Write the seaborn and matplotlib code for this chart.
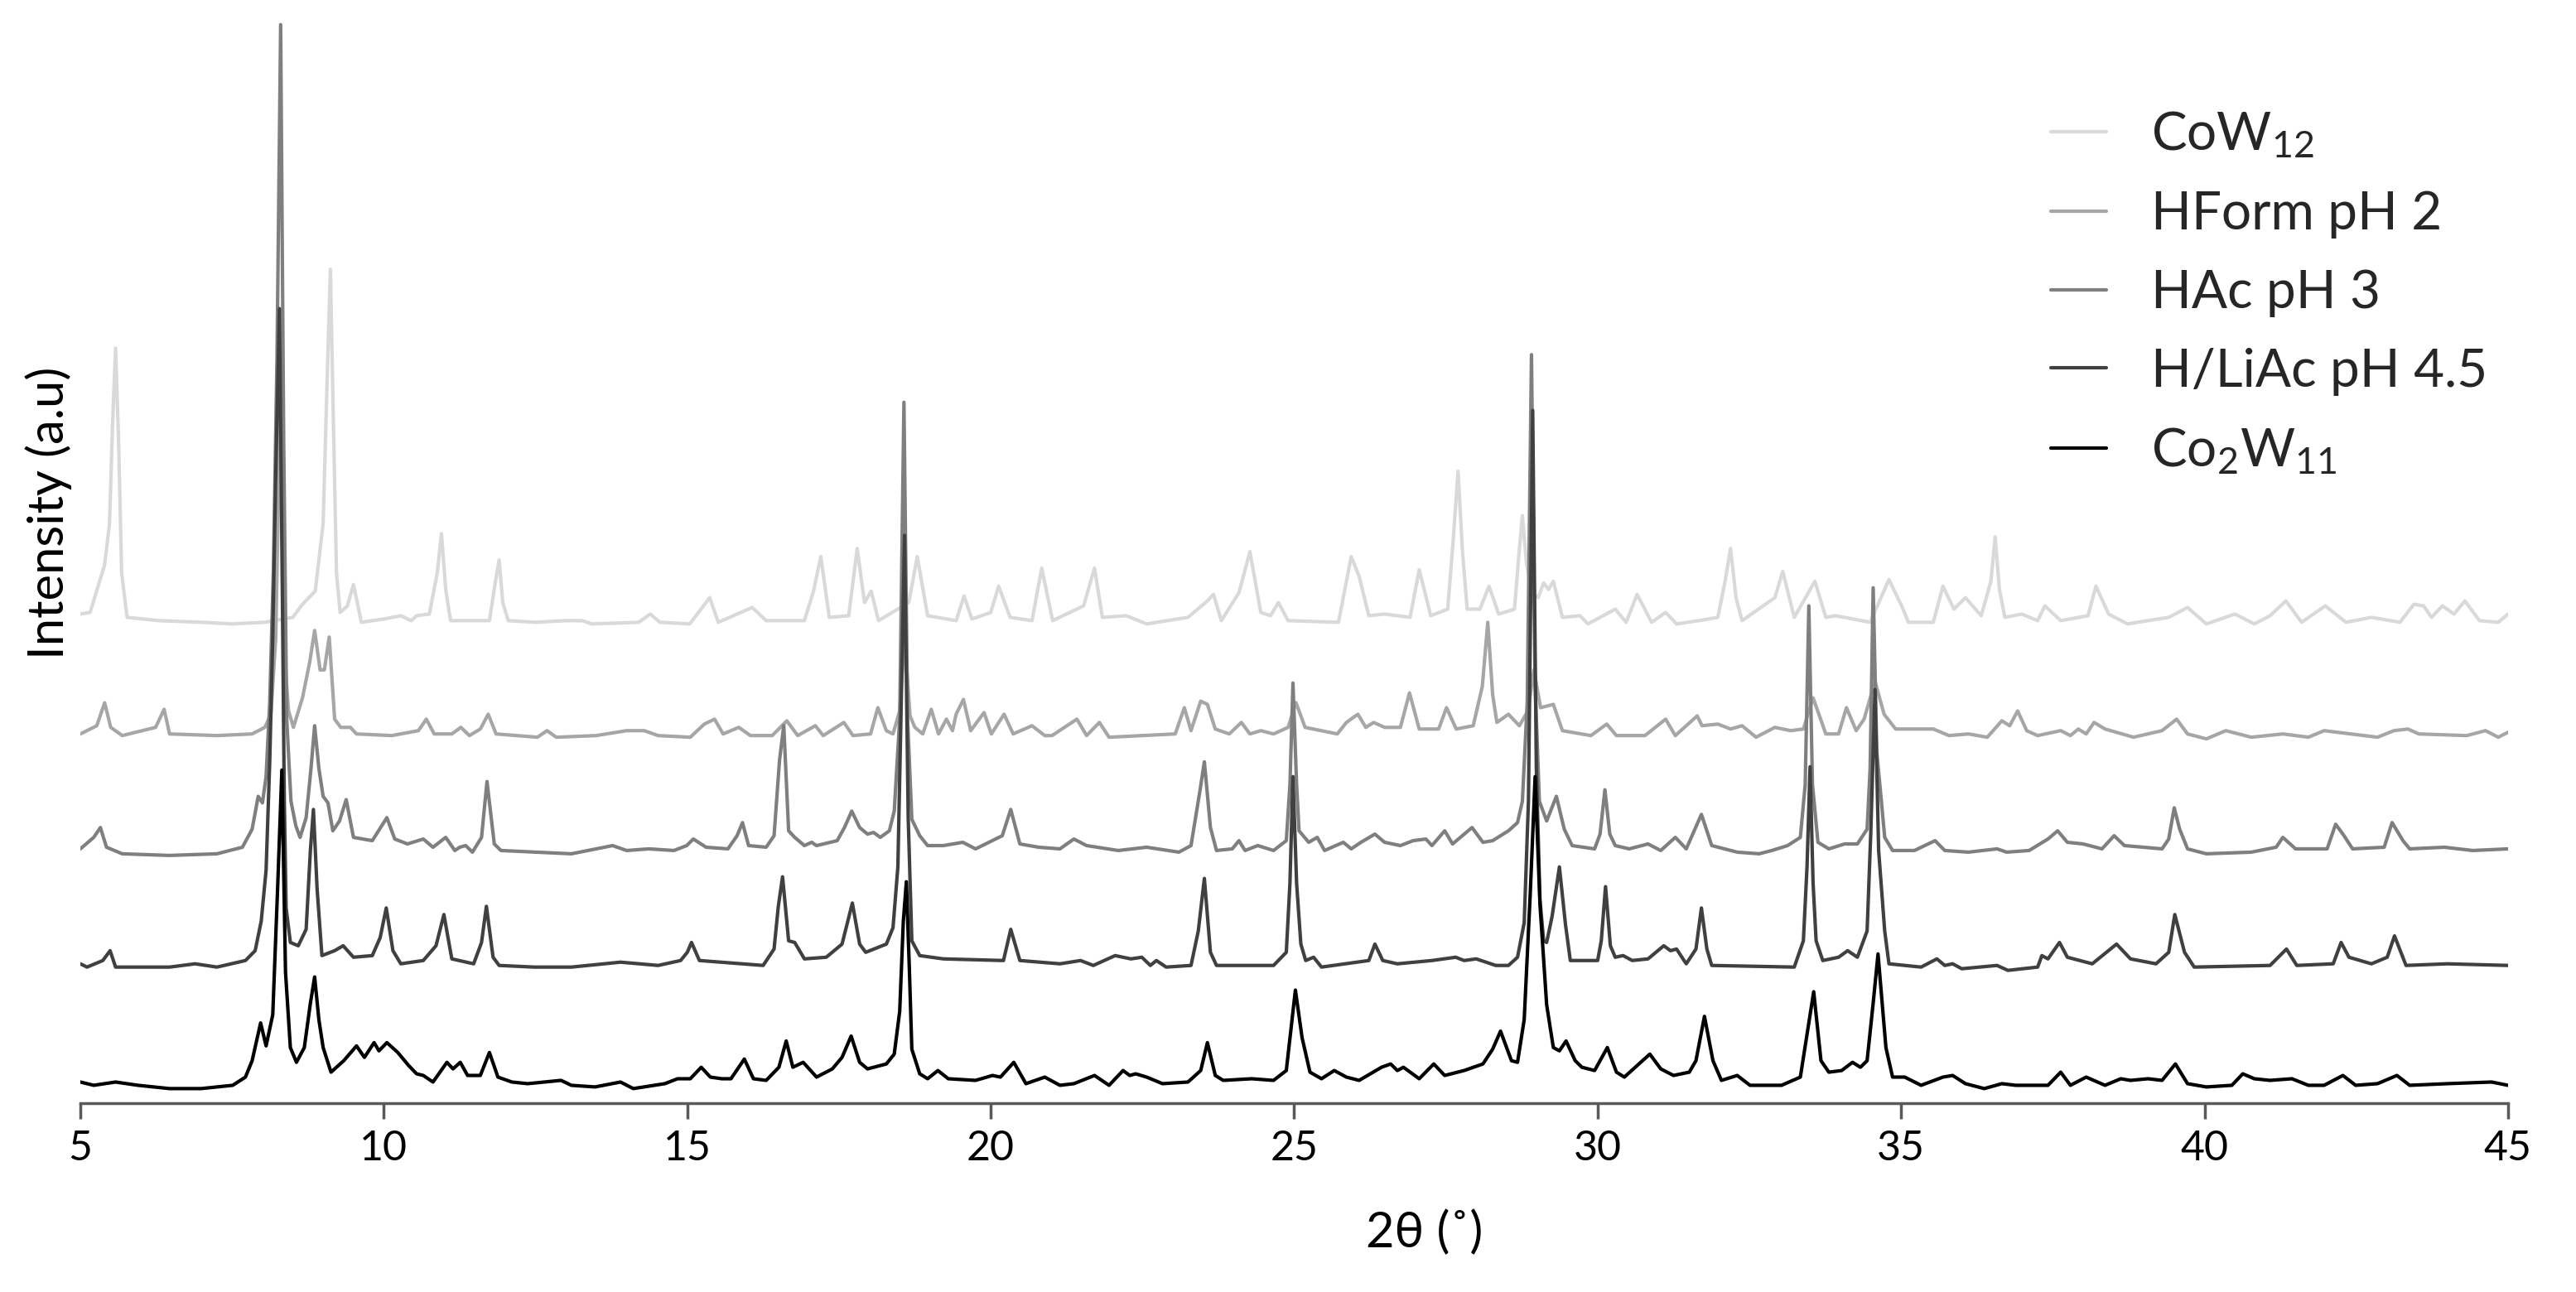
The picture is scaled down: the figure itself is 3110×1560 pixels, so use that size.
import matplotlib
matplotlib.use("Agg")
import matplotlib.pyplot as plt
import pandas as pd
import seaborn as sns

# ---------------- data (2theta in degrees, intensity in arbitrary units) ----------------
SERIES = ["CoW$_{12}$", "HForm pH 2", "HAc pH 3", "H/LiAc pH 4.5", "Co$_{2}$W$_{11}$"]
COLORS = ["#d9d9d9", "#a6a6a6", "#7f7f7f", "#404040", "#000000"]
OFFSETS = [293, 224, 154, 84, 11]

COW12 = [
    (5.00, 5), (5.16, 6), (5.40, 35), (5.48, 60), (5.53, 120), (5.58, 167), (5.63, 110), (5.68, 30),
    (5.77, 3), (6.30, 1), (7.00, 0), (7.50, -1), (8.04, 0), (8.50, 3), (8.66, 11), (8.87, 19),
    (9.00, 60), (9.06, 140), (9.12, 215), (9.17, 120), (9.22, 30), (9.28, 6), (9.40, 10), (9.50, 23),
    (9.63, 0), (10.00, 2), (10.28, 4), (10.45, 1), (10.54, 4), (10.75, 5), (10.88, 30), (10.95, 54),
    (11.02, 20), (11.10, 1), (11.74, 1), (11.84, 25), (11.90, 38), (11.96, 12), (12.05, 1), (12.50, 0),
    (13.00, 1), (13.27, 1), (13.43, -1), (14.20, 0), (14.39, 5), (14.55, 0), (15.04, -1), (15.37, 15),
    (15.51, 0), (16.07, 9), (16.30, 1), (16.93, 1), (17.08, 19), (17.20, 40), (17.34, 3), (17.66, 4),
    (17.80, 45), (17.92, 12), (18.03, 19), (18.15, 1), (18.65, 12), (18.79, 40), (18.96, 4), (19.43, 1),
    (19.56, 16), (19.69, 2), (20.00, 6), (20.13, 22), (20.32, 3), (20.68, 1), (20.84, 33), (21.02, 1),
    (21.53, 10), (21.71, 33), (21.84, 3), (22.23, 4), (22.57, -1), (23.25, 3), (23.57, 13), (23.67, 17),
    (23.80, 1), (24.09, 18), (24.27, 43), (24.45, 6), (24.61, 4), (24.74, 12), (24.90, 1), (25.73, 0),
    (25.94, 40), (26.07, 28), (26.23, 4), (26.49, 5), (26.91, 3), (27.06, 32), (27.25, 4), (27.53, 8),
    (27.62, 50), (27.70, 92), (27.77, 45), (27.85, 8), (28.06, 8), (28.21, 22), (28.37, 5), (28.63, 8),
    (28.70, 40), (28.76, 65), (28.83, 35), (28.92, 18), (29.02, 15), (29.11, 24), (29.19, 20), (29.27, 25),
    (29.42, 3), (29.71, 4), (29.84, -1), (30.29, 8), (30.47, 0), (30.65, 17), (30.89, 0), (31.12, 6),
    (31.30, -1), (31.67, 1), (31.98, 3), (32.10, 25), (32.19, 45), (32.28, 15), (32.38, 1), (32.92, 15),
    (33.05, 31), (33.24, 3), (33.58, 25), (33.76, 3), (33.92, 4), (34.49, 0), (34.80, 26), (35.01, 10),
    (35.12, 0), (35.53, 0), (35.69, 22), (35.87, 8), (36.06, 15), (36.32, 4), (36.48, 25), (36.55, 52),
    (36.62, 20), (36.71, 3), (36.99, 5), (37.25, 1), (37.37, 10), (37.63, 1), (38.08, 4), (38.21, 22),
    (38.42, 5), (38.73, -1), (39.41, 3), (39.72, 9), (40.03, -1), (40.50, 5), (40.82, -1), (41.08, 4),
    (41.34, 13), (41.60, 0), (41.99, 10), (42.33, 0), (42.75, 3), (43.22, 0), (43.45, 11), (43.61, 10),
    (43.74, 3), (43.92, 10), (44.11, 5), (44.29, 13), (44.53, 1), (44.84, 0), (45.00, 5),
]

HFORM = [
    (5.00, 1), (5.27, 6), (5.40, 20), (5.50, 5), (5.69, 0), (6.24, 5), (6.38, 16), (6.47, 1),
    (7.25, 0), (7.83, 1), (8.04, 5), (8.14, 13), (8.22, 60), (8.29, 200), (8.36, 50), (8.43, 15),
    (8.51, 5), (8.66, 23), (8.78, 45), (8.86, 64), (8.95, 40), (9.02, 40), (9.10, 60), (9.19, 10),
    (9.29, 5), (9.45, 5), (9.55, 1), (10.13, 0), (10.57, 3), (10.70, 10), (10.83, 1), (11.12, 1),
    (11.27, 5), (11.41, 0), (11.59, 4), (11.72, 13), (11.85, 1), (12.53, -1), (12.69, 3), (12.84, -1),
    (13.50, 0), (14.00, 3), (14.29, 3), (14.52, 0), (15.05, -1), (15.28, 7), (15.45, 10), (15.59, 1),
    (15.85, 5), (16.04, 0), (16.40, 0), (16.64, 9), (16.82, 0), (17.11, 6), (17.24, 0), (17.58, 8),
    (17.73, 0), (18.02, 1), (18.14, 17), (18.28, 3), (18.39, 1), (18.50, 15), (18.58, 60), (18.67, 12),
    (18.75, 5), (18.88, 1), (19.02, 16), (19.14, 1), (19.27, 10), (19.37, 3), (19.43, 13), (19.55, 22),
    (19.67, 3), (19.89, 14), (20.01, 1), (20.22, 13), (20.37, 1), (20.68, 6), (20.89, 0), (21.01, 0),
    (21.42, 10), (21.58, 0), (21.79, 8), (21.95, -1), (23.04, 1), (23.19, 17), (23.30, 3), (23.46, 21),
    (23.57, 19), (23.70, 4), (23.93, 1), (24.13, 8), (24.27, 1), (24.45, 3), (24.66, 1), (24.90, 5),
    (25.03, 20), (25.18, 5), (25.71, 1), (25.86, 8), (26.05, 13), (26.18, 5), (26.31, 8), (26.49, 5),
    (26.75, 5), (26.90, 26), (27.06, 4), (27.38, 4), (27.51, 17), (27.67, 4), (27.95, 6), (28.10, 30),
    (28.19, 69), (28.27, 25), (28.34, 8), (28.53, 13), (28.71, 6), (28.85, 15), (28.95, 40), (29.06, 17),
    (29.27, 19), (29.42, 3), (29.89, 0), (30.15, 7), (30.31, 0), (30.78, 0), (31.12, 10), (31.28, 0),
    (31.64, 12), (31.72, 6), (31.98, 7), (32.19, 4), (32.38, 6), (32.61, -1), (32.92, 5), (33.18, 3),
    (33.39, 4), (33.55, 23), (33.76, 1), (33.97, 1), (34.10, 17), (34.26, 3), (34.39, 10), (34.57, 33),
    (34.72, 13), (34.91, 4), (35.25, 4), (35.53, 4), (35.79, 0), (36.11, 1), (36.42, -1), (36.66, 9),
    (36.79, 6), (36.92, 15), (37.07, 3), (37.25, 0), (37.63, 3), (37.79, 0), (37.92, 4), (38.05, 1),
    (38.18, 8), (38.36, 4), (38.83, -1), (39.30, 3), (39.54, 10), (39.72, 1), (40.03, -2), (40.35, 3),
    (40.77, -1), (41.29, 1), (41.71, -1), (41.97, 3), (42.85, -1), (43.12, 3), (43.35, 4), (43.53, 1),
    (44.32, 0), (44.63, 3), (44.84, -1), (45.00, 2),
]

HAC = [
    (5.00, 1), (5.22, 8), (5.33, 14), (5.43, 2), (5.69, -2), (6.47, -3), (7.25, -2), (7.67, 2),
    (7.83, 13), (7.93, 33), (8.00, 29), (8.06, 45), (8.12, 90), (8.18, 170), (8.24, 300), (8.30, 503),
    (8.35, 250), (8.40, 80), (8.47, 30), (8.55, 15), (8.62, 8), (8.72, 20), (8.80, 50), (8.86, 76),
    (8.93, 50), (9.00, 33), (9.08, 29), (9.16, 12), (9.27, 18), (9.38, 31), (9.50, 8), (9.81, 6),
    (10.05, 20), (10.18, 7), (10.39, 4), (10.65, 7), (10.81, 2), (11.02, 8), (11.17, 0), (11.25, 2),
    (11.35, 3), (11.46, -1), (11.61, 8), (11.70, 42), (11.82, 4), (11.93, 0), (13.09, -2), (13.77, 3),
    (14.00, 0), (14.37, 1), (14.78, 0), (14.99, 3), (15.10, 7), (15.31, 2), (15.67, 1), (15.82, 9),
    (15.91, 17), (16.01, 3), (16.30, 2), (16.43, 9), (16.52, 55), (16.59, 76), (16.67, 12), (16.77, 8),
    (16.93, 3), (17.05, 5), (17.13, 3), (17.47, 6), (17.59, 14), (17.71, 24), (17.84, 14), (17.97, 10),
    (18.07, 11), (18.18, 8), (18.33, 12), (18.41, 24), (18.50, 80), (18.57, 273), (18.63, 80), (18.70, 19),
    (18.83, 9), (18.96, 3), (19.22, 3), (19.54, 5), (19.75, 1), (20.19, 9), (20.33, 25), (20.48, 4),
    (20.79, 2), (21.14, 1), (21.37, 7), (21.58, 3), (22.10, 0), (22.57, 2), (23.10, -1), (23.30, 3),
    (23.45, 37), (23.52, 54), (23.62, 14), (23.72, 0), (23.98, 1), (24.09, 6), (24.19, 0), (24.40, 3),
    (24.66, 0), (24.87, 6), (24.93, 40), (24.98, 102), (25.04, 40), (25.08, 12), (25.24, 5), (25.38, 8),
    (25.50, 0), (25.81, 5), (25.94, 1), (26.10, 5), (26.33, 10), (26.49, 5), (26.75, 3), (26.96, 6),
    (27.17, 7), (27.27, 3), (27.48, 12), (27.61, 4), (27.93, 14), (28.11, 5), (28.27, 6), (28.53, 12),
    (28.68, 17), (28.76, 30), (28.84, 90), (28.91, 302), (28.97, 100), (29.04, 30), (29.16, 18), (29.32, 33),
    (29.45, 13), (29.58, 3), (29.95, 1), (30.04, 10), (30.12, 37), (30.20, 10), (30.29, 3), (30.52, 1),
    (30.83, 4), (31.04, 0), (31.28, 8), (31.46, 1), (31.71, 22), (31.88, 3), (32.30, -1), (32.66, -2),
    (32.87, 0), (33.13, 3), (33.34, 8), (33.42, 40), (33.48, 149), (33.54, 40), (33.63, 5), (33.81, 1),
    (34.07, 4), (34.28, 4), (34.44, 13), (34.49, 50), (34.54, 160), (34.60, 60), (34.73, 8), (34.86, 0),
    (35.22, 0), (35.56, 6), (35.72, 0), (36.11, -1), (36.58, 1), (36.74, -1), (37.11, 0), (37.42, 7),
    (37.58, 12), (37.74, 5), (38.00, 4), (38.31, 1), (38.51, 9), (38.68, 3), (39.30, 1), (39.41, 7),
    (39.50, 26), (39.59, 13), (39.72, 1), (40.03, -2), (40.77, -1), (41.18, 2), (41.29, 8), (41.50, 1),
    (42.02, 1), (42.16, 16), (42.28, 10), (42.44, 1), (42.96, 2), (43.09, 17), (43.27, 6), (43.38, 1),
    (43.95, 2), (44.42, 0), (45.00, 1),
]

HLIAC = [
    (5.00, 1), (5.11, -1), (5.37, 3), (5.49, 9), (5.58, -1), (6.47, -1), (6.89, 1), (7.25, -1),
    (7.72, 3), (7.88, 9), (7.98, 27), (8.06, 58), (8.12, 124), (8.17, 200), (8.22, 300), (8.28, 400),
    (8.33, 220), (8.36, 100), (8.39, 35), (8.46, 14), (8.59, 12), (8.72, 22), (8.79, 70), (8.84, 95),
    (8.90, 47), (8.98, 6), (9.19, 9), (9.33, 12), (9.50, 5), (9.81, 6), (9.94, 17), (10.04, 35),
    (10.15, 9), (10.28, 1), (10.65, 3), (10.86, 12), (10.99, 31), (11.12, 4), (11.48, 1), (11.61, 14),
    (11.69, 36), (11.80, 5), (11.90, 0), (12.48, -1), (13.09, -1), (13.90, 2), (14.52, 0), (14.89, 3),
    (15.00, 8), (15.07, 14), (15.20, 3), (16.25, 0), (16.43, 10), (16.50, 36), (16.57, 54), (16.67, 15),
    (16.77, 14), (16.93, 4), (17.29, 5), (17.55, 13), (17.72, 38), (17.84, 13), (17.94, 8), (18.28, 13),
    (18.39, 23), (18.47, 60), (18.52, 150), (18.58, 262), (18.64, 90), (18.70, 15), (18.83, 6), (19.22, 4),
    (20.21, 3), (20.33, 22), (20.48, 3), (21.14, 1), (21.48, 3), (21.69, 0), (22.05, 6), (22.31, 4),
    (22.49, 5), (22.63, 0), (22.73, 3), (22.89, -1), (23.30, 0), (23.42, 21), (23.52, 53), (23.62, 8),
    (23.72, 0), (24.66, 0), (24.87, 8), (24.93, 50), (24.98, 115), (25.04, 50), (25.11, 13), (25.19, 3),
    (25.32, 5), (25.45, -1), (26.23, 3), (26.33, 13), (26.46, 3), (26.70, 1), (27.27, 3), (27.66, 5),
    (27.80, 3), (28.00, 4), (28.32, 0), (28.53, 0), (28.68, 5), (28.79, 26), (28.86, 100), (28.93, 338),
    (28.99, 120), (29.05, 40), (29.11, 15), (29.16, 14), (29.25, 30), (29.37, 60), (29.47, 25), (29.55, 3),
    (30.00, 3), (30.06, 15), (30.13, 48), (30.21, 12), (30.29, 5), (30.42, 6), (30.57, 3), (30.83, 4),
    (31.09, 12), (31.20, 9), (31.30, 10), (31.46, 1), (31.62, 10), (31.71, 35), (31.80, 10), (31.88, 0),
    (33.24, -1), (33.39, 15), (33.45, 60), (33.50, 121), (33.55, 50), (33.60, 15), (33.71, 3), (33.97, 5),
    (34.12, 9), (34.28, 5), (34.44, 21), (34.50, 80), (34.57, 168), (34.63, 70), (34.73, 21), (34.80, 1),
    (35.33, -1), (35.59, 4), (35.72, 0), (35.85, 1), (36.00, -2), (36.58, 0), (36.76, -3), (37.25, -1),
    (37.32, 6), (37.42, 4), (37.61, 14), (37.74, 5), (38.15, 1), (38.55, 13), (38.78, 4), (39.20, 1),
    (39.41, 8), (39.51, 31), (39.67, 8), (39.83, -1), (41.08, 0), (41.35, 10), (41.52, 0), (42.12, 1),
    (42.25, 14), (42.38, 5), (42.75, 1), (43.01, 5), (43.13, 18), (43.32, 0), (44.00, 1), (45.00, 0),
]

CO2W11 = [
    (5.00, 2), (5.22, 0), (5.58, 2), (5.95, 0), (6.47, -2), (6.99, -2), (7.51, 0), (7.72, 5),
    (7.83, 15), (7.97, 38), (8.06, 24), (8.17, 43), (8.25, 120), (8.32, 192), (8.38, 69), (8.46, 23),
    (8.56, 14), (8.69, 23), (8.79, 50), (8.86, 66), (8.93, 40), (9.00, 23), (9.13, 8), (9.34, 15),
    (9.55, 24), (9.68, 17), (9.84, 26), (9.92, 21), (10.05, 26), (10.23, 20), (10.41, 12), (10.54, 7),
    (10.65, 6), (10.81, 2), (11.04, 14), (11.14, 10), (11.26, 14), (11.38, 6), (11.59, 6), (11.74, 20),
    (11.88, 5), (12.11, 2), (12.37, 1), (12.92, 3), (13.09, 0), (13.48, -1), (13.90, 2), (14.11, -2),
    (14.63, 1), (14.84, 4), (15.05, 4), (15.23, 11), (15.38, 5), (15.57, 4), (15.72, 4), (15.94, 16),
    (16.09, 4), (16.30, 3), (16.51, 11), (16.63, 27), (16.74, 11), (16.91, 14), (17.13, 5), (17.39, 10),
    (17.55, 17), (17.70, 30), (17.84, 14), (17.97, 10), (18.28, 13), (18.41, 19), (18.50, 45), (18.56, 100),
    (18.61, 124), (18.66, 70), (18.70, 22), (18.83, 7), (18.96, 4), (19.13, 9), (19.30, 4), (19.75, 3),
    (20.03, 6), (20.16, 5), (20.38, 14), (20.58, 1), (20.89, 5), (21.14, 0), (21.37, 1), (21.71, 6),
    (21.95, 0), (22.18, 9), (22.29, 6), (22.39, 7), (22.57, 5), (22.83, 1), (23.25, 2), (23.46, 9),
    (23.57, 26), (23.70, 6), (23.83, 3), (24.30, 4), (24.66, 3), (24.87, 9), (24.95, 35), (25.02, 58),
    (25.13, 29), (25.26, 8), (25.45, 4), (25.66, 9), (25.86, 5), (26.07, 3), (26.44, 11), (26.59, 13),
    (26.70, 9), (26.80, 11), (27.06, 4), (27.30, 13), (27.48, 6), (27.80, 9), (28.11, 13), (28.27, 22),
    (28.40, 33), (28.58, 15), (28.68, 14), (28.79, 40), (28.89, 117), (28.97, 188), (29.05, 110), (29.16, 49),
    (29.27, 23), (29.37, 21), (29.48, 27), (29.63, 15), (29.74, 11), (29.95, 9), (30.16, 23), (30.31, 8),
    (30.44, 5), (30.68, 13), (30.86, 19), (31.04, 10), (31.25, 6), (31.51, 8), (31.62, 15), (31.76, 42),
    (31.90, 15), (32.04, 3), (32.30, 6), (32.51, 0), (33.03, 0), (33.34, 5), (33.45, 31), (33.56, 57),
    (33.68, 15), (33.81, 8), (34.02, 9), (34.20, 14), (34.33, 11), (34.44, 15), (34.54, 50), (34.62, 80),
    (34.75, 23), (34.86, 5), (35.06, 5), (35.33, 0), (35.69, 5), (35.85, 6), (36.06, 1), (36.37, -2),
    (36.66, 1), (36.89, 0), (37.25, 0), (37.42, 0), (37.63, 8), (37.79, 0), (38.05, 5), (38.36, 0),
    (38.62, 4), (38.78, 3), (39.07, 4), (39.30, 3), (39.52, 13), (39.72, 1), (40.03, -1), (40.45, 0),
    (40.63, 7), (40.82, 4), (41.08, 3), (41.44, 4), (41.71, 0), (41.97, 0), (42.28, 6), (42.49, 0),
    (42.85, 1), (43.17, 6), (43.38, 0), (44.00, 1), (44.73, 2), (45.00, 0),
]

X_TICKS = [5, 10, 15, 20, 25, 30, 35, 40, 45]
X_LABEL = "2θ (˚)"
Y_LABEL = "Intensity (a.u)"

# ---------------- styling ----------------
sns.set_theme(style="white")
plt.rcParams["font.family"] = ["Lato", "DejaVu Sans"]
plt.rcParams["mathtext.fontset"] = "custom"
plt.rcParams["mathtext.rm"] = "Lato"
plt.rcParams["mathtext.it"] = "Lato:italic"
plt.rcParams["mathtext.bf"] = "Lato:bold"
plt.rcParams["mathtext.default"] = "regular"

rows = []
for name, pts, off in zip(SERIES, [COW12, HFORM, HAC, HLIAC, CO2W11], OFFSETS):
    for x, y in pts:
        rows.append((name, x, y + off))
df = pd.DataFrame(rows, columns=["series", "two_theta", "intensity"])

fig = plt.figure(figsize=(31.1, 15.6), dpi=100)
ax = fig.add_axes([0.0312, 0.146, 0.9424, 0.854])
sns.lineplot(data=df, x="two_theta", y="intensity", hue="series", hue_order=SERIES,
             palette=dict(zip(SERIES, COLORS)), estimator=None, sort=False,
             linewidth=3.0, ax=ax)

ax.set_xlim(5, 45)
ax.set_ylim(0, 672)
ax.set_xticks(X_TICKS)
ax.set_yticks([])
ax.set_xlabel("")
ax.set_ylabel("")
for s in ["top", "right", "left"]:
    ax.spines[s].set_visible(False)
ax.spines["bottom"].set_color("#595959")
ax.spines["bottom"].set_linewidth(2.5)
ax.tick_params(axis="x", direction="out", length=14, width=2.5, color="#595959",
               pad=9, labelsize=36, labelcolor="black", bottom=True)
ax.set_facecolor("white")

fig.text(0.553, 0.046, X_LABEL, ha="center", va="center", fontsize=43, color="black")
fig.text(0.019, 0.603, Y_LABEL, rotation=90, ha="center", va="center", fontsize=43, color="black")

handles, labels = ax.get_legend_handles_labels()
leg = ax.legend(handles, labels, loc="upper left", bbox_to_anchor=(0.796, 0.915),
                bbox_transform=fig.transFigure, frameon=False, fontsize=46,
                handlelength=1.05, handletextpad=0.85, labelspacing=0.575,
                borderpad=0, borderaxespad=0)
for line in leg.get_lines():
    line.set_linewidth(3.0)

fig.savefig("out.png", dpi=100, facecolor="white")
